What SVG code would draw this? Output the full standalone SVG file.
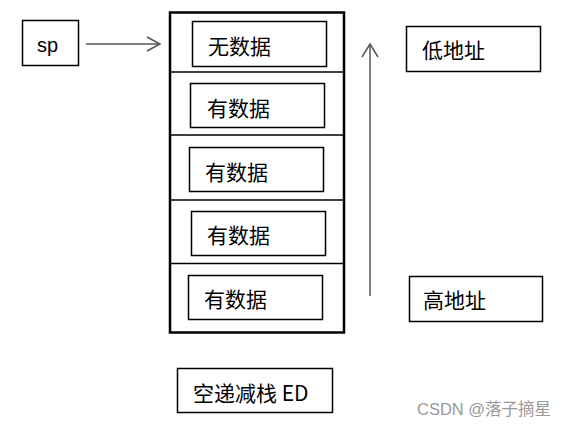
<svg xmlns="http://www.w3.org/2000/svg" width="568" height="428" viewBox="0 0 568 428">
<style>
.box{fill:#fff;stroke:#000;stroke-width:1.5}
.t{font-family:"Noto Sans CJK SC","Liberation Sans",sans-serif;font-size:21px;fill:#000}
.c{stroke:#555;stroke-width:1.5;fill:none}
.div{stroke:#000;stroke-width:1.5}
</style>
<rect width="568" height="428" fill="#fff"/>
<g id="sp"><rect class="box" x="22.5" y="20.5" width="56" height="45"/><text x="37" y="52" font-family="Liberation Sans,sans-serif" font-size="20">sp</text></g>
<g id="stack">
<rect x="170" y="12.5" width="174" height="320" fill="#fff" stroke="#000" stroke-width="2.5"/>
<line class="div" x1="170" y1="72" x2="344" y2="72"/>
<line class="div" x1="170" y1="135" x2="344" y2="135"/>
<line class="div" x1="170" y1="200" x2="344" y2="200"/>
<line class="div" x1="170" y1="263.5" x2="344" y2="263.5"/>
</g>
<g id="cell1"><rect class="box" x="192.5" y="21.5" width="134" height="45"/><text class="t" x="208" y="54">无数据</text></g>
<g id="cell2"><rect class="box" x="190.5" y="83.5" width="134" height="44"/><text class="t" x="207" y="116">有数据</text></g>
<g id="cell3"><rect class="box" x="189.5" y="147.5" width="134" height="44"/><text class="t" x="205" y="180">有数据</text></g>
<g id="cell4"><rect class="box" x="191.5" y="211.5" width="134" height="44"/><text class="t" x="207" y="243">有数据</text></g>
<g id="cell5"><rect class="box" x="188.5" y="275.5" width="134" height="44"/><text class="t" x="204" y="307">有数据</text></g>
<g id="low"><rect class="box" x="406.5" y="26.5" width="134" height="45"/><text class="t" x="422" y="58">低地址</text></g>
<g id="high"><rect class="box" x="409.5" y="276.5" width="133" height="45"/><text class="t" x="423" y="308">高地址</text></g>
<g id="title"><rect class="box" x="177.5" y="368.5" width="155" height="44"/><text class="t" x="193" y="401">空递减栈 ED</text></g>
<g id="connectors">
<line class="c" x1="86" y1="44" x2="160" y2="44"/>
<polyline class="c" points="147,37 160,44 147,51" stroke="#000"/>
<line class="c" x1="370" y1="296" x2="370" y2="45"/>
<polyline class="c" points="362,57 370,44 378,57" stroke="#000"/>
</g>
<text x="417" y="415" font-family="Liberation Sans,'Noto Sans CJK SC',sans-serif" font-size="16.5" fill="#999">CSDN @落子摘星</text>
</svg>
